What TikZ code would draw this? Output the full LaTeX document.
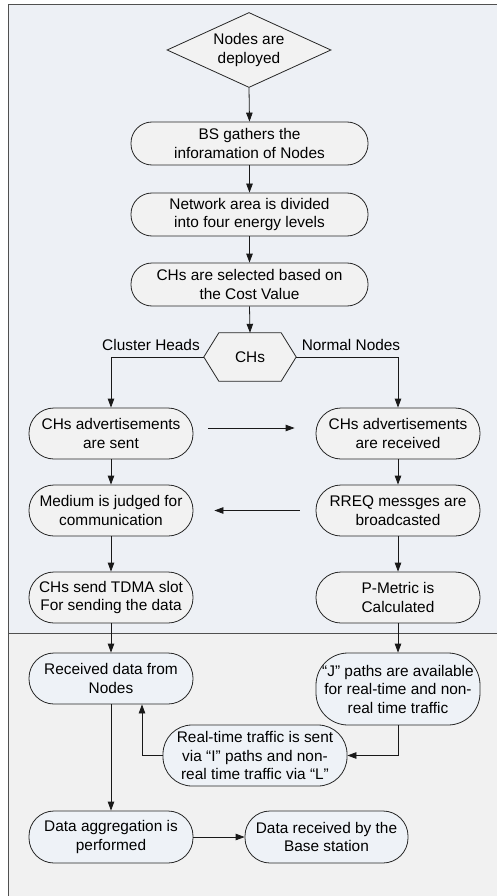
\documentclass[tikz,border=0pt]{standalone}
\usepackage{fontspec}
\setmainfont{Liberation Sans}
\usetikzlibrary{arrows.meta,shapes.geometric,backgrounds}
\definecolor{topbg}{HTML}{EDF0F5}
\definecolor{botbg}{HTML}{F1F1F1}
\definecolor{graynode}{HTML}{F2F2F2}
\definecolor{bluenode}{HTML}{EEF2F7}
\definecolor{framec}{HTML}{505050}
\tikzset{
  base/.style={draw=black!85, line width=0.8pt, align=center, inner sep=0pt,
    font=\fontsize{15.4}{18.5}\selectfont},
  pill/.style={base, rectangle, minimum width=164pt, minimum height=51pt, rounded corners=25pt},
  toppill/.style={pill, fill=graynode},
  botpill/.style={pill, fill=bluenode},
  lbl/.style={inner sep=0pt, font=\fontsize{15.4}{18.5}\selectfont},
  arr/.style={draw=black!90, line width=0.8pt, -{Triangle[length=9pt,width=6.5pt]}},
}
\begin{document}
\begin{tikzpicture}[x=1pt,y=-1pt]
\useasboundingbox (0,0) rectangle (496,896);
% nodes
\node[base, shape=diamond, fill=graynode, minimum width=164pt, minimum height=75pt, aspect=2.19] (dia) at (249,50) {Nodes are\\deployed};
\node[toppill, minimum width=237pt, minimum height=43pt, rounded corners=21pt] (bs) at (249.5,143.5) {BS gathers the\\inforamation of Nodes};
\node[toppill, minimum width=237pt, minimum height=43pt, rounded corners=21pt] (net) at (249.5,214.5) {Network area is divided\\into four energy levels};
\node[toppill, minimum width=237pt, minimum height=43pt, rounded corners=21pt] (sel) at (249.5,284.5) {CHs are selected based on\\the Cost Value};
\node[lbl, minimum width=92pt, minimum height=48pt] (hex) at (250,357) {CHs};
\node[lbl] (lch) at (151,345) {Cluster Heads};
\node[lbl] (lnn) at (351,345) {Normal Nodes};
\node[toppill] (sent) at (111,433.5) {CHs advertisements\\are sent};
\node[toppill] (recv) at (398,433.5) {CHs advertisements\\are received};
\node[toppill] (med) at (111,510.5) {Medium is judged for\\communication};
\node[toppill] (rreq) at (398,510.5) {RREQ messges are\\broadcasted};
\node[toppill] (tdma) at (111,597.5) {CHs send TDMA slot\\For sending the data};
\node[toppill] (pm) at (398,597.5) {P-Metric is\\Calculated};
\node[botpill] (rd) at (111,678.5) {Received data from\\Nodes};
\node[botpill, minimum height=72pt, rounded corners=32pt] (jp) at (398,689) {“J” paths are available\\for real-time and non-\\real time traffic};
\node[botpill, minimum width=184pt, minimum height=61pt, rounded corners=29pt] (rt) at (255,755.5) {Real-time traffic is sent\\via “I” paths and non-\\real time traffic via “L”};
\node[botpill, minimum height=52pt] (agg) at (111,837) {Data aggregation is\\performed};
\node[botpill, minimum width=163pt, minimum height=52pt] (bsr) at (326.5,837) {Data received by the\\Base station};
% background: frame and hexagon
\begin{scope}[on background layer]
  \fill[topbg] (8,5) rectangle (500,633);
  \fill[botbg] (8,633) rectangle (500,900);
  \draw[framec, line width=1pt] (500,5) -- (8,5) -- (8,900);
  \draw[framec, line width=1pt] (8,633) -- (500,633);
  \draw[line width=0.8pt, draw=black!85, fill=graynode] (hex.west) -- ([xshift=15pt]hex.north west) -- ([xshift=-15pt]hex.north east) -- (hex.east) -- ([xshift=-15pt]hex.south east) -- ([xshift=15pt]hex.south west) -- cycle;
\end{scope}
% connectors
\draw[arr] (dia.south) -- (bs.north);
\draw[arr] (bs.south) -- (net.north);
\draw[arr] (net.south) -- (sel.north);
\draw[arr] (sel.south) -- (hex.north);
\draw[arr] (hex.west) -| (sent.north);
\draw[arr] (hex.east) -| (recv.north);
\draw[arr, shorten <=15pt, shorten >=21pt] ([yshift=5.5pt]sent.east) -- ([yshift=5.5pt]recv.west);
\draw[arr, shorten <=16pt, shorten >=21pt] (rreq.west) -- (med.east);
\draw[arr] (sent.south) -- (med.north);
\draw[arr] (med.south) -- (tdma.north);
\draw[arr] (recv.south) -- (rreq.north);
\draw[arr] (rreq.south) -- (pm.north);
\draw[arr] (tdma.south) -- (rd.north);
\draw[arr] (pm.south) -- (jp.north);
\draw[arr] (jp.south) |- (rt.east);
\draw[arr] (rt.west) -| ([xshift=31pt]rd.south);
\draw[arr] (rd.south) -- (agg.north);
\draw[arr] (agg.east) -- (bsr.west);
\end{tikzpicture}
\end{document}
